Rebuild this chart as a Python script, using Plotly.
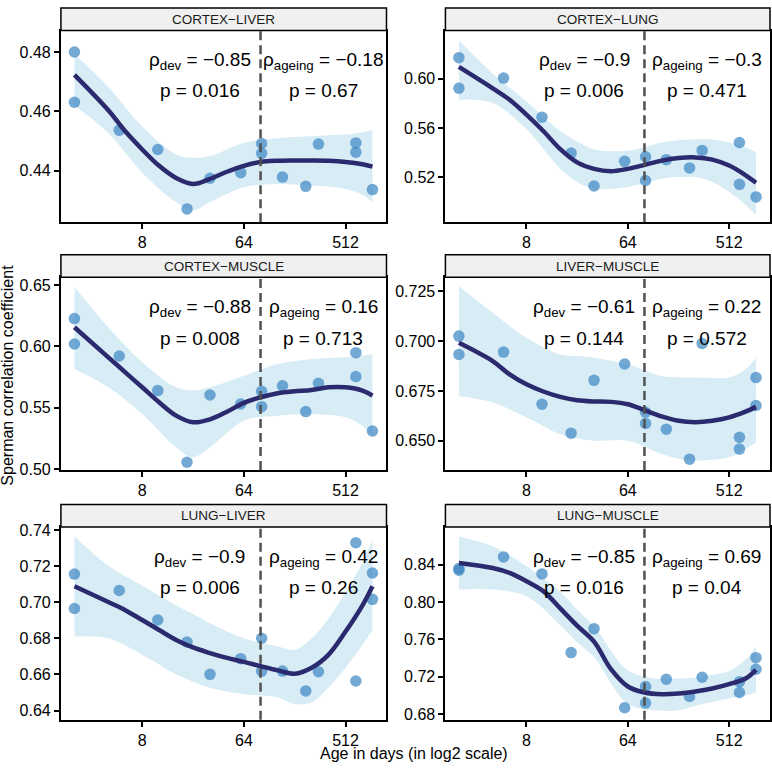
import plotly.graph_objects as go

# ---------------- data ----------------
PANEL_NAMES = ["CORTEX−LIVER", "CORTEX−LUNG", "CORTEX−MUSCLE",
               "LIVER−MUSCLE", "LUNG−LIVER", "LUNG−MUSCLE"]

AGES_15 = [2, 2, 5, 11, 20, 32, 60, 92, 92, 141, 227, 294, 632, 632, 888]
AGES_16 = [2, 2, 5, 11, 20, 32, 60, 92, 92, 141, 227, 294, 632, 632, 888, 888]

CORR_CORTEX_LIVER = [0.4800, 0.4631, 0.4537, 0.4472, 0.4272, 0.4375, 0.4394, 0.4492,
                     0.4459, 0.4379, 0.4348, 0.4490, 0.4494, 0.4463, 0.4337]
CORR_CORTEX_LUNG = [0.6171, 0.5922, 0.6005, 0.5687, 0.5395, 0.5128, 0.5328, 0.5366,
                    0.5173, 0.5342, 0.5275, 0.5417, 0.5481, 0.5141, 0.5039]
CORR_CORTEX_MUSCLE = [0.6226, 0.6019, 0.5921, 0.5639, 0.5055, 0.5603, 0.5530, 0.5633,
                      0.5508, 0.5679, 0.5468, 0.5698, 0.5948, 0.5753, 0.5310]
CORR_LIVER_MUSCLE = [0.7025, 0.6933, 0.6945, 0.6683, 0.6538, 0.6803, 0.6885, 0.6643,
                     0.6587, 0.6558, 0.6407, 0.6988, 0.6517, 0.6458, 0.6817, 0.6677]
CORR_LUNG_LIVER = [0.7157, 0.6966, 0.7066, 0.6902, 0.6780, 0.6601, 0.6688, 0.6801,
                   0.6619, 0.6619, 0.6509, 0.6615, 0.7331, 0.6564, 0.7163, 0.7017]
CORR_LUNG_MUSCLE = [0.8357, 0.8340, 0.8482, 0.8300, 0.7458, 0.7714, 0.6867, 0.7095,
                    0.6917, 0.7173, 0.6988, 0.7194, 0.7145, 0.7031, 0.7404, 0.7280]

# smoothed (loess) fit
CURVE_AGE = [2, 4, 5.66, 8, 11.3, 16, 22.6, 32, 45.3, 64, 90.5, 128, 181, 256, 362, 512, 724, 888]
FIT_CORTEX_LIVER = [0.4723, 0.4604, 0.4533, 0.4472, 0.4417, 0.4376, 0.4356, 0.4373, 0.4397,
                    0.4417, 0.4430, 0.4434, 0.4435, 0.4435, 0.4434, 0.4430, 0.4422, 0.4414]
FIT_CORTEX_LUNG = [0.6096, 0.5922, 0.5829, 0.5708, 0.5575, 0.5427, 0.5320, 0.5267, 0.5248,
                   0.5267, 0.5299, 0.5334, 0.5355, 0.5360, 0.5342, 0.5294, 0.5213, 0.5154]
FIT_CORTEX_MUSCLE = [0.6155, 0.5910, 0.5788, 0.5666, 0.5544, 0.5435, 0.5381, 0.5405, 0.5467,
                     0.5539, 0.5585, 0.5617, 0.5633, 0.5644, 0.5666, 0.5666, 0.5639, 0.5598]
FIT_LIVER_MUSCLE = [0.6992, 0.6900, 0.6833, 0.6783, 0.6747, 0.6720, 0.6703, 0.6697, 0.6695,
                    0.6683, 0.6653, 0.6622, 0.6600, 0.6593, 0.6600, 0.6617, 0.6647, 0.6670]
FIT_LUNG_LIVER = [0.7090, 0.7002, 0.6957, 0.6902, 0.6847, 0.6792, 0.6750, 0.6719, 0.6692,
                  0.6670, 0.6646, 0.6623, 0.6604, 0.6637, 0.6710, 0.6838, 0.6984, 0.7090]
FIT_LUNG_MUSCLE = [0.8418, 0.8364, 0.8311, 0.8222, 0.8116, 0.7931, 0.7746, 0.7575, 0.7280,
                   0.7095, 0.7031, 0.7013, 0.7020, 0.7042, 0.7074, 0.7120, 0.7184, 0.7273]

# confidence band of the fit
BAND_AGE = [2, 4, 8, 16, 22.6, 32, 64, 128, 181, 256, 362, 512, 724, 888]
UP_CORTEX_LIVER = [0.4792, 0.4682, 0.4549, 0.4455, 0.4444, 0.4450, 0.4494, 0.4510, 0.4514,
                   0.4516, 0.4520, 0.4522, 0.4530, 0.4538]
LO_CORTEX_LIVER = [0.4620, 0.4527, 0.4394, 0.4295, 0.4267, 0.4295, 0.4345, 0.4356, 0.4354,
                   0.4350, 0.4347, 0.4339, 0.4320, 0.4295]
UP_CORTEX_LUNG = [0.6310, 0.6043, 0.5815, 0.5575, 0.5490, 0.5427, 0.5414, 0.5481, 0.5500,
                  0.5508, 0.5505, 0.5481, 0.5440, 0.5401]
LO_CORTEX_LUNG = [0.5829, 0.5802, 0.5588, 0.5267, 0.5160, 0.5106, 0.5120, 0.5187, 0.5200,
                  0.5200, 0.5160, 0.5079, 0.4970, 0.4892]
UP_CORTEX_MUSCLE = [0.6486, 0.6155, 0.5870, 0.5666, 0.5640, 0.5666, 0.5761, 0.5856, 0.5880,
                    0.5897, 0.5905, 0.5910, 0.5925, 0.5938]
LO_CORTEX_MUSCLE = [0.5815, 0.5666, 0.5449, 0.5177, 0.5095, 0.5177, 0.5394, 0.5435, 0.5445,
                    0.5449, 0.5440, 0.5421, 0.5350, 0.5272]
UP_LIVER_MUSCLE = [0.7275, 0.7142, 0.7017, 0.6933, 0.6925, 0.6917, 0.6883, 0.6825, 0.6818,
                   0.6817, 0.6815, 0.6817, 0.6860, 0.6917]
LO_LIVER_MUSCLE = [0.6725, 0.6692, 0.6617, 0.6533, 0.6512, 0.6500, 0.6500, 0.6433, 0.6410,
                   0.6400, 0.6405, 0.6417, 0.6460, 0.6492]
UP_LUNG_LIVER = [0.7367, 0.7203, 0.7093, 0.6984, 0.6935, 0.6884, 0.6801, 0.6756, 0.6737,
                 0.6801, 0.6911, 0.7057, 0.7221, 0.7349]
LO_LUNG_LIVER = [0.6811, 0.6801, 0.6710, 0.6601, 0.6560, 0.6527, 0.6491, 0.6473, 0.6436,
                 0.6446, 0.6528, 0.6637, 0.6765, 0.6847]
UP_LUNG_MUSCLE = [0.8702, 0.8596, 0.8382, 0.8110, 0.7920, 0.7740, 0.7270, 0.7173, 0.7180,
                  0.7191, 0.7220, 0.7262, 0.7387, 0.7529]
LO_LUNG_MUSCLE = [0.8133, 0.8133, 0.8060, 0.7750, 0.7570, 0.7410, 0.6910, 0.6835, 0.6840,
                  0.6889, 0.6930, 0.6967, 0.7000, 0.7031]

RHO_DEV = [-0.85, -0.9, -0.88, -0.61, -0.9, -0.85]
P_DEV = ["0.016", "0.006", "0.008", "0.144", "0.006", "0.016"]
RHO_AGEING = [-0.18, -0.3, 0.16, 0.22, 0.42, 0.69]
P_AGEING = ["0.67", "0.471", "0.713", "0.572", "0.26", "0.04"]

X_TICKS = [8, 64, 512]
Y_TICKS = [[0.44, 0.46, 0.48], [0.52, 0.56, 0.60], [0.50, 0.55, 0.60, 0.65],
           [0.650, 0.675, 0.700, 0.725], [0.64, 0.66, 0.68, 0.70, 0.72, 0.74],
           [0.68, 0.72, 0.76, 0.80, 0.84]]
Y_FORMAT = [".2f", ".2f", ".2f", ".3f", ".2f", ".2f"]
DEV_CUTOFF_DAYS = 90

AGES = [AGES_15, AGES_15, AGES_15, AGES_16, AGES_16, AGES_16]
CORRS = [CORR_CORTEX_LIVER, CORR_CORTEX_LUNG, CORR_CORTEX_MUSCLE,
         CORR_LIVER_MUSCLE, CORR_LUNG_LIVER, CORR_LUNG_MUSCLE]
FITS = [FIT_CORTEX_LIVER, FIT_CORTEX_LUNG, FIT_CORTEX_MUSCLE,
        FIT_LIVER_MUSCLE, FIT_LUNG_LIVER, FIT_LUNG_MUSCLE]
UPS = [UP_CORTEX_LIVER, UP_CORTEX_LUNG, UP_CORTEX_MUSCLE,
       UP_LIVER_MUSCLE, UP_LUNG_LIVER, UP_LUNG_MUSCLE]
LOS = [LO_CORTEX_LIVER, LO_CORTEX_LUNG, LO_CORTEX_MUSCLE,
       LO_LIVER_MUSCLE, LO_LUNG_LIVER, LO_LUNG_MUSCLE]

# ---------------- layout / style ----------------
W, H = 772, 771
FONT = "Liberation Sans, Arial, Helvetica, sans-serif"
COL_X = [(61, 387), (446, 771)]              # pixel extents of panel columns
ROW_Y = [(26, 221), (277, 473), (531, 727)]  # pixel extents of panel rows (top, bottom)
STRIP_H = 23
X_RANGE_LOG10 = [0.181, 3.073]
Y_RANGES = [[0.4227, 0.4872], [0.4833, 0.6391], [0.4992, 0.6562],
            [0.6353, 0.7320], [0.6349, 0.7418], [0.6739, 0.8802]]

POINT_COLOR = "rgba(62,136,196,0.72)"
LINE_COLOR = "#2C2A6E"
BAND_COLOR = "rgba(180,218,238,0.52)"


def fmt(v):
    return str(v).replace("-", "−")


fig = go.Figure()
layout = dict(
    width=W, height=H, margin=dict(l=0, r=0, t=0, b=0),
    paper_bgcolor="white", plot_bgcolor="white", showlegend=False,
    font=dict(family=FONT, color="#1a1a1a"),
)
shapes, annotations = [], []

for i in range(6):
    r, c = divmod(i, 2)
    k = "" if i == 0 else str(i + 1)
    xa, ya = "x" + k, "y" + k
    x0, x1 = COL_X[c]
    yt, yb = ROW_Y[r]
    layout["xaxis" + k] = dict(
        type="log", domain=[x0 / W, x1 / W], range=X_RANGE_LOG10, anchor=ya,
        tickvals=X_TICKS, ticktext=[str(t) for t in X_TICKS],
        showline=True, mirror=True, linecolor="black", linewidth=2,
        ticks="outside", ticklen=5, tickwidth=1.5, tickcolor="black",
        showgrid=False, zeroline=False, tickfont=dict(size=16, color="black"),
    )
    layout["yaxis" + k] = dict(
        domain=[1 - yb / H, 1 - yt / H], range=Y_RANGES[i], anchor=xa,
        tickvals=Y_TICKS[i], tickformat=Y_FORMAT[i],
        showline=True, mirror=True, linecolor="black", linewidth=2,
        ticks="outside", ticklen=5, tickwidth=1.5, tickcolor="black",
        showgrid=False, zeroline=False, tickfont=dict(size=16, color="black"),
    )

    fig.add_trace(go.Scatter(x=BAND_AGE, y=LOS[i], mode="lines", line=dict(width=0, shape="spline"),
                             xaxis=xa, yaxis=ya, hoverinfo="skip"))
    fig.add_trace(go.Scatter(x=BAND_AGE, y=UPS[i], mode="lines", line=dict(width=0, shape="spline"),
                             fill="tonexty", fillcolor=BAND_COLOR, xaxis=xa, yaxis=ya, hoverinfo="skip"))
    fig.add_trace(go.Scatter(x=AGES[i], y=CORRS[i], mode="markers",
                             marker=dict(size=11.5, color=POINT_COLOR, line=dict(width=0)),
                             xaxis=xa, yaxis=ya))
    fig.add_trace(go.Scatter(x=CURVE_AGE, y=FITS[i], mode="lines",
                             line=dict(color=LINE_COLOR, width=4.5, shape="spline"),
                             xaxis=xa, yaxis=ya))

    # dashed development/ageing boundary
    shapes.append(dict(type="line", xref=xa, yref=ya + " domain",
                       x0=DEV_CUTOFF_DAYS, x1=DEV_CUTOFF_DAYS, y0=0, y1=1,
                       line=dict(color="#505050", width=2.5, dash="9px,5px"), layer="above"))
    # facet strip
    shapes.append(dict(type="rect", xref="paper", yref="paper",
                       x0=x0 / W, x1=x1 / W, y0=1 - yt / H, y1=1 - (yt - STRIP_H) / H,
                       fillcolor="#F0F0F0", line=dict(color="black", width=1.5), layer="above"))
    annotations.append(dict(xref="paper", yref="paper", x=(x0 + x1) / 2 / W,
                            y=1 - (yt - STRIP_H / 2) / H, text=PANEL_NAMES[i], showarrow=False,
                            font=dict(size=13.5, color="#1a1a1a"), xanchor="center", yanchor="middle"))
    # statistics
    for txt, xd, yd in [
        ("ρ<sub>dev</sub> = " + fmt(RHO_DEV[i]), 0.427, 0.84),
        ("p = " + P_DEV[i], 0.427, 0.685),
        ("ρ<sub>ageing</sub> = " + fmt(RHO_AGEING[i]), 0.805, 0.84),
        ("p = " + P_AGEING[i], 0.805, 0.685),
    ]:
        annotations.append(dict(xref=xa + " domain", yref=ya + " domain", x=xd, y=yd, text=txt,
                                showarrow=False, xanchor="center", yanchor="middle",
                                font=dict(size=19, color="black")))

annotations.append(dict(xref="paper", yref="paper", x=8 / W, y=1 - 376 / H,
                        text="Sperman correlation coefficient", textangle=-90, showarrow=False,
                        xanchor="center", yanchor="middle", font=dict(size=16, color="black")))
annotations.append(dict(xref="paper", yref="paper", x=415 / W, y=1 - 761 / H,
                        text="Age in days (in log2 scale)", showarrow=False,
                        xanchor="center", yanchor="middle", font=dict(size=16, color="black")))

layout["shapes"] = shapes
layout["annotations"] = annotations
fig.update_layout(**layout)
fig.write_html("out.html", config={"displayModeBar": False},
               post_script="document.body.style.margin='0';document.body.style.overflow='hidden';")
